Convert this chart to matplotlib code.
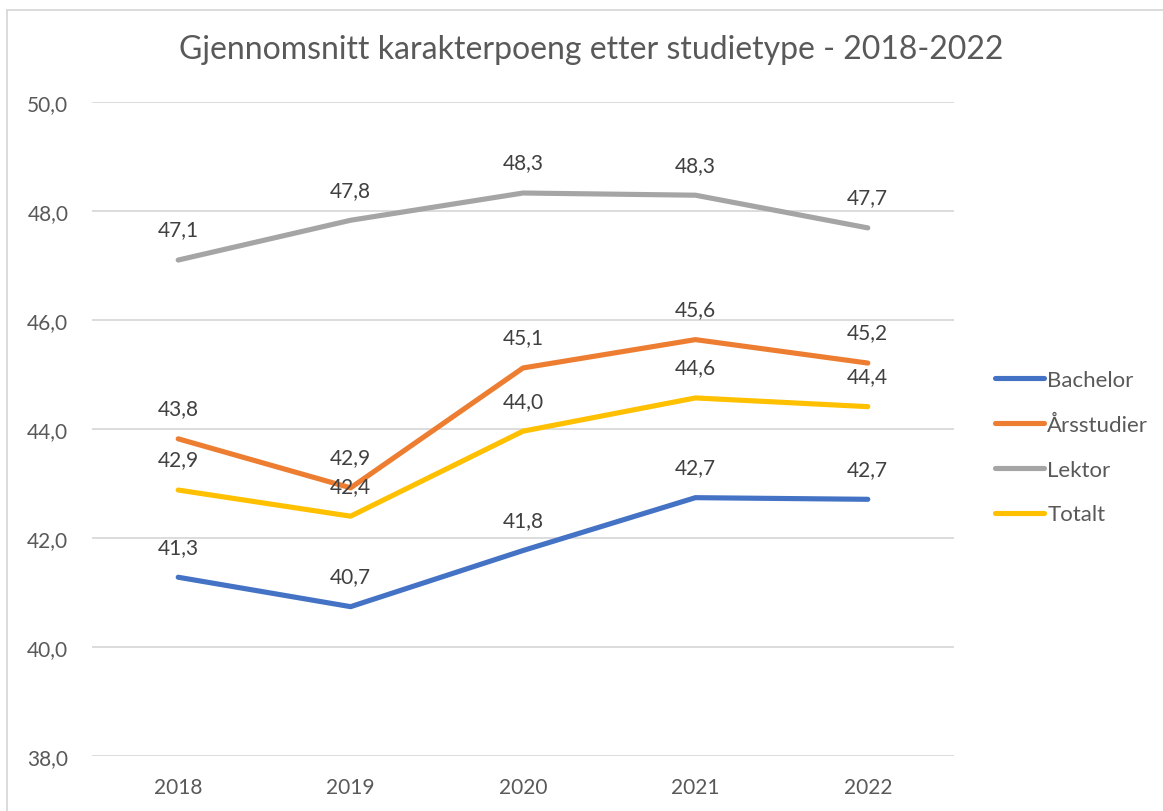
import matplotlib.pyplot as plt
from matplotlib.lines import Line2D
import numpy as np

years = ['2018', '2019', '2020', '2021', '2022']
bachelor = [41.28, 40.74, 41.77, 42.74, 42.71]
arsstudier = [43.82, 42.92, 45.12, 45.64, 45.21]
lektor = [47.10, 47.83, 48.33, 48.29, 47.69]
totalt = [42.88, 42.40, 43.96, 44.57, 44.41]

series = [
    ('Bachelor', bachelor, '#4472C4'),
    ('Årsstudier', arsstudier, '#ED7D31'),
    ('Lektor', lektor, '#A5A5A5'),
    ('Totalt', totalt, '#FFC000'),
]

plt.rcParams['font.family'] = ['Lato', 'DejaVu Sans']

W, H = 1163, 812
fig = plt.figure(figsize=(W / 100, H / 100), dpi=100, facecolor='w')
ax = fig.add_axes([92 / W, 1 - 757 / H, (954 - 92) / W, (757 - 103) / H])

x = np.arange(len(years))
for name, vals, col in series:
    ax.plot(x, vals, color=col, lw=3.7, solid_capstyle='round', label=name, zorder=3)
    for xi, v in zip(x, vals):
        ax.annotate(f"{v:.1f}".replace('.', ','), (xi, v), xytext=(0, 22),
                    textcoords='offset points', ha='center', va='center',
                    fontsize=15, color='#404040', zorder=4)

ax.set_xlim(-0.5, len(years) - 0.5)
ax.set_ylim(38, 50)
ax.set_yticks(np.arange(38, 50.1, 2))
ax.set_yticklabels([f"{t:.1f}".replace('.', ',') for t in np.arange(38, 50.1, 2)])
ax.set_xticks(x)
ax.set_xticklabels(years)
ax.tick_params(axis='both', length=0, labelsize=15, labelcolor='#595959')
ax.tick_params(axis='y', pad=17)
ax.tick_params(axis='x', pad=15)
ax.grid(axis='y', color='#D9D9D9', lw=1.3)
ax.set_axisbelow(True)
for s in ax.spines.values():
    s.set_visible(False)

fig.text(591 / W, 1 - 50 / H, 'Gjennomsnitt karakterpoeng etter studietype - 2018-2022',
         ha='center', va='center', fontsize=23, color='#595959')

handles = [Line2D([], [], color=c, lw=3.7, solid_capstyle='round') for _, _, c in series]
fig.legend(handles, [n for n, _, _ in series], loc='center left',
           bbox_to_anchor=(975 / W, 1 - 448 / H), frameon=False, fontsize=16,
           handlelength=2.2, handletextpad=0.15, labelspacing=1.12,
           labelcolor='#595959')

# chart border
fig.add_artist(Line2D([7 / W, 1], [1 - 11 / H, 1 - 11 / H], color='#D9D9D9', lw=1.3))
fig.add_artist(Line2D([7 / W, 7 / W], [1 - 11 / H, 0], color='#D9D9D9', lw=1.3))

fig.savefig('out.png', dpi=100)
